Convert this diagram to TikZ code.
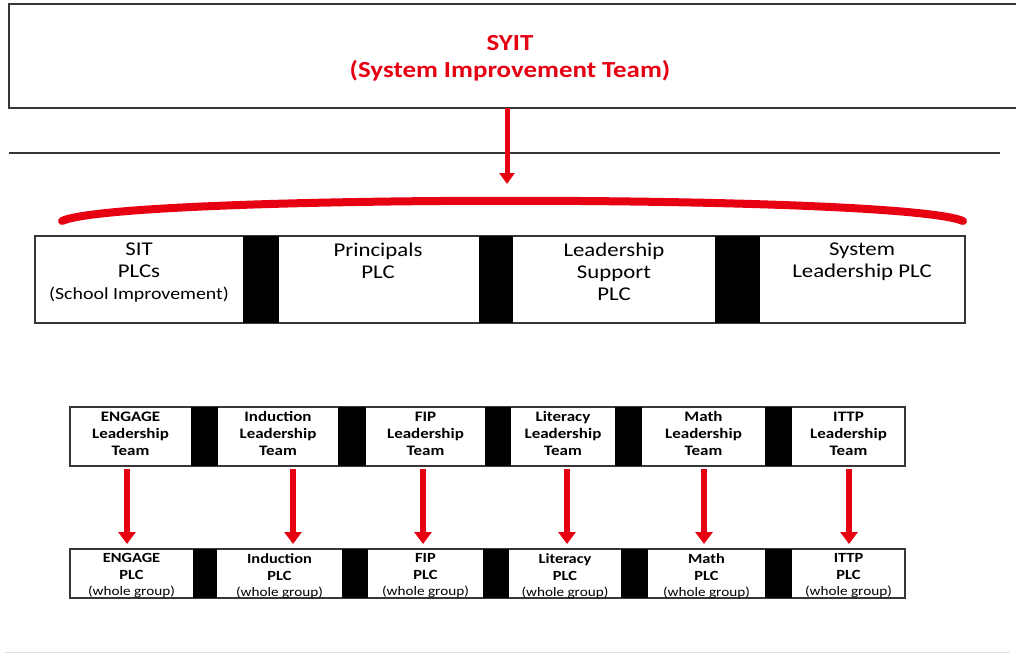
\documentclass[tikz,border=0pt]{standalone}
\usepackage{fontspec}
\setmainfont[FakeStretch=1.17]{Carlito}
\usetikzlibrary{arrows.meta}
\definecolor{ared}{RGB}{230,0,18}
\definecolor{bline}{RGB}{55,55,55}
\begin{document}
\begin{tikzpicture}[x=1pt,y=-1pt,
  frame/.style={draw=bline,line width=1.1pt,fill=none,inner sep=0pt},
  cell/.style={draw=none,inner sep=0pt,outer sep=0pt},
  titletext/.style={text=ared,font=\fontsize{23}{27}\selectfont\bfseries,align=center,inner sep=0pt},
  midtext/.style={anchor=north,font=\fontsize{19.5}{22}\selectfont,align=center,inner sep=0pt},
  teamtext/.style={anchor=north,font=\fontsize{14.5}{17}\selectfont\bfseries,align=center,inner sep=0pt},
  plctext/.style={anchor=north,font=\fontsize{14}{16.5}\selectfont\bfseries,align=center,inner sep=0pt},
  redarrow/.style={draw=ared,line width=6pt,-{Triangle[width=17pt,length=12pt]},shorten <=3pt,shorten >=5pt},
  toparrow/.style={draw=ared,line width=5pt,-{Triangle[width=15pt,length=11pt]}},
  redarc/.style={draw=ared,line width=8pt,line cap=round}
]
\useasboundingbox (0,0) rectangle (1016,658);

% top box
\draw[bline,line width=1.3pt] (9,4) rectangle (1017,108);
\node[cell,minimum width=1008,minimum height=104] (top) at (513,56) {};
\node[titletext] (syit) at (510,58.5) {SYIT\\(System Improvement Team)};

% separator line
\coordinate (hlL) at (9,153);
\coordinate (hlR) at (1000,153);
\draw[bline,line width=1.1pt] (hlL) -- (hlR);

% top arrow
\coordinate (fan) at (507,184);
\draw[toparrow] (top.south -| fan) -- (fan);

% red arc
\coordinate (arcL) at (62,221);
\coordinate (arcR) at (963,221);
\draw[redarc] (arcL) .. controls (120,194) and (900,194) .. (arcR);

% middle box
\draw[frame] (35,236) rectangle (965,323);
\fill[black] (243,236) rectangle (279,323);
\fill[black] (479,236) rectangle (513,323);
\fill[black] (715,236) rectangle (760,323);
\node[cell,minimum width=208,minimum height=87] (m1) at (139,279.5) {};
\node[cell,minimum width=200,minimum height=87] (m2) at (379,279.5) {};
\node[cell,minimum width=202,minimum height=87] (m3) at (614,279.5) {};
\node[cell,minimum width=205,minimum height=87] (m4) at (862.5,279.5) {};
\node[midtext] (m1t) at (139,242.5) {SIT\\PLCs\\{\fontsize{17}{22}\selectfont(School Improvement)}};
\node[midtext] (m2t) at (378,242.5) {Principals\\PLC};
\node[midtext] (m3t) at (614,242.5) {Leadership\\Support\\PLC};
\node[midtext] (m4t) at (862,242.5) {System\\Leadership PLC};

% leadership team row
\draw[frame] (70,407) rectangle (905,466);
\fill[black] (191,407) rectangle (218,466);
\fill[black] (338,407) rectangle (366,466);
\fill[black] (485,407) rectangle (511,466);
\fill[black] (615,407) rectangle (642,466);
\fill[black] (765,407) rectangle (792,466);
\node[cell,minimum width=121,minimum height=59] (t1) at (130.5,436.5) {};
\node[cell,minimum width=120,minimum height=59] (t2) at (278,436.5) {};
\node[cell,minimum width=119,minimum height=59] (t3) at (425.5,436.5) {};
\node[cell,minimum width=104,minimum height=59] (t4) at (563,436.5) {};
\node[cell,minimum width=123,minimum height=59] (t5) at (703.5,436.5) {};
\node[cell,minimum width=113,minimum height=59] (t6) at (848.5,436.5) {};
\node[teamtext] at (130.5,411.5) {ENGAGE\\Leadership\\Team};
\node[teamtext] at (278,411.5) {Induction\\Leadership\\Team};
\node[teamtext] at (425.5,411.5) {FIP\\Leadership\\Team};
\node[teamtext] at (563,411.5) {Literacy\\Leadership\\Team};
\node[teamtext] at (703.5,411.5) {Math\\Leadership\\Team};
\node[teamtext] at (848.5,411.5) {ITTP\\Leadership\\Team};

% PLC row
\draw[frame] (70,549) rectangle (905,598);
\fill[black] (193,549) rectangle (217,598);
\fill[black] (342,549) rectangle (368,598);
\fill[black] (483,549) rectangle (509,598);
\fill[black] (621,549) rectangle (648,598);
\fill[black] (765,549) rectangle (792,598);
\node[cell,minimum width=123,minimum height=49] (p1) at (131.5,573.5) {};
\node[cell,minimum width=125,minimum height=49] (p2) at (279.5,573.5) {};
\node[cell,minimum width=115,minimum height=49] (p3) at (425.5,573.5) {};
\node[cell,minimum width=112,minimum height=49] (p4) at (565,573.5) {};
\node[cell,minimum width=117,minimum height=49] (p5) at (706.5,573.5) {};
\node[cell,minimum width=113,minimum height=49] (p6) at (848.5,573.5) {};
\newcommand{\wg}{{\mdseries\fontsize{13}{16.5}\selectfont(whole group)}}
\node[plctext] at (131.5,553.5) {ENGAGE\\PLC\\\wg};
\node[plctext] at (279.5,553.5) {Induction\\PLC\\\wg};
\node[plctext] at (425.5,553.5) {FIP\\PLC\\\wg};
\node[plctext] at (565,553.5) {Literacy\\PLC\\\wg};
\node[plctext] at (706.5,553.5) {Math\\PLC\\\wg};
\node[plctext] at (848.5,553.5) {ITTP\\PLC\\\wg};

% arrows between rows
\draw[redarrow] ([xshift=-3.5pt]t1.south) -- ([xshift=-4.5pt]p1.north);
\draw[redarrow] ([xshift=15pt]t2.south) -- ([xshift=13.5pt]p2.north);
\draw[redarrow] ([xshift=-2.5pt]t3.south) -- ([xshift=-2.5pt]p3.north);
\draw[redarrow] ([xshift=4pt]t4.south) -- ([xshift=2pt]p4.north);
\draw[redarrow] ([xshift=0.5pt]t5.south) -- ([xshift=-2.5pt]p5.north);
\draw[redarrow] ([xshift=0.5pt]t6.south) -- ([xshift=0.5pt]p6.north);

% faint bottom line
\coordinate (blL) at (5,652);
\coordinate (blR) at (1010,652);
\draw[black!12,line width=0.8pt] (blL) -- (blR);
\end{tikzpicture}
\end{document}
